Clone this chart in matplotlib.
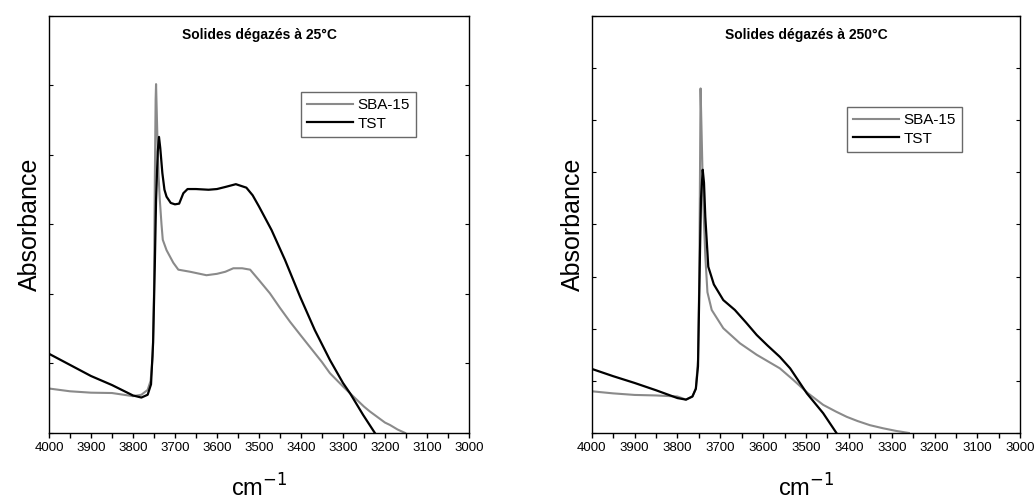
import matplotlib
matplotlib.use('Agg')
import matplotlib.pyplot as plt
from matplotlib.ticker import MultipleLocator

plt.rcParams['font.family'] = ['Liberation Sans', 'DejaVu Sans']

# spectrum degassed at 25 C (wavenumber, absorbance a.u.)
wn_25_sba = [4000, 3950, 3900, 3850, 3800, 3780, 3765, 3758, 3753, 3750, 3748, 3746, 3745, 3742, 3739,
             3736, 3732, 3729, 3720, 3704, 3692, 3664, 3625, 3600, 3580, 3561, 3540, 3521, 3500,
             3474, 3450, 3426, 3400, 3379, 3350, 3331, 3300, 3283, 3250, 3236, 3200, 3188, 3170, 3152]
ab_25_sba = [0.64, 0.60, 0.58, 0.575, 0.53, 0.55, 0.62, 0.75, 1.10, 2.00, 3.60, 4.80, 5.02, 4.30, 3.70,
             3.35, 3.00, 2.78, 2.63, 2.45, 2.35, 2.32, 2.27, 2.29, 2.32, 2.37, 2.37, 2.35, 2.20,
             2.01, 1.80, 1.60, 1.40, 1.24, 1.02, 0.86, 0.67, 0.57, 0.38, 0.31, 0.15, 0.115, 0.05, 0.0]
wn_25_tst = [4000, 3950, 3900, 3850, 3800, 3780, 3765, 3757, 3752, 3748, 3745, 3741, 3738, 3735, 3730,
             3725, 3720, 3710, 3700, 3690, 3680, 3670, 3650, 3620, 3600, 3580, 3555, 3530, 3515, 3500,
             3470, 3438, 3402, 3367, 3331, 3300, 3283, 3252, 3224]
ab_25_tst = [1.14, 0.98, 0.82, 0.69, 0.54, 0.51, 0.55, 0.70, 1.30, 2.40, 3.35, 4.05, 4.26, 4.10, 3.74,
             3.50, 3.40, 3.31, 3.29, 3.30, 3.45, 3.51, 3.51, 3.50, 3.51, 3.54, 3.58, 3.53, 3.42, 3.26,
             2.92, 2.49, 1.96, 1.48, 1.05, 0.72, 0.57, 0.26, 0.0]

# spectrum degassed at 250 C
wn_250_sba = [4000, 3950, 3900, 3850, 3800, 3780, 3765, 3757, 3752, 3749, 3747, 3746, 3744, 3740,
              3735, 3730, 3720, 3693, 3654, 3615, 3561, 3530, 3495, 3460, 3430, 3405, 3380, 3351,
              3320, 3290, 3260]
ab_250_sba = [0.80, 0.76, 0.73, 0.72, 0.70, 0.64, 0.70, 0.85, 1.40, 3.00, 5.40, 6.61, 5.90, 4.47,
              3.40, 2.70, 2.36, 2.01, 1.72, 1.50, 1.24, 1.02, 0.76, 0.54, 0.41, 0.31, 0.23, 0.15,
              0.09, 0.04, 0.0]
wn_250_tst = [4000, 3950, 3900, 3850, 3800, 3780, 3765, 3757, 3752, 3748, 3745, 3741, 3738, 3735,
              3728, 3715, 3693, 3666, 3640, 3615, 3590, 3561, 3537, 3498, 3460, 3429]
ab_250_tst = [1.23, 1.09, 0.96, 0.82, 0.67, 0.64, 0.70, 0.85, 1.28, 3.19, 4.50, 5.05, 4.80, 4.15,
              3.19, 2.85, 2.55, 2.36, 2.12, 1.88, 1.68, 1.46, 1.24, 0.76, 0.38, 0.0]

GREY = '#8a8a8a'

fig = plt.figure(figsize=(10.35, 5.03), dpi=100)

panels = [
    ([0.0473, 0.1392, 0.4058, 0.829], 'Solides dégazés à 25°C', 6,
     wn_25_sba, ab_25_sba, wn_25_tst, ab_25_tst, (0.60, 0.818)),
    ([0.5717, 0.1392, 0.4141, 0.829], 'Solides dégazés à 250°C', 8,
     wn_250_sba, ab_250_sba, wn_250_tst, ab_250_tst, (0.595, 0.782)),
]

for pos, title, ymax, x1, y1, x2, y2, leg_pos in panels:
    ax = fig.add_axes(pos)
    ax.plot(x1, y1, color=GREY, lw=1.5, label='SBA-15')
    ax.plot(x2, y2, color='black', lw=1.6, label='TST')
    ax.set_xlim(4000, 3000)
    ax.set_ylim(0, ymax)
    ax.xaxis.set_major_locator(MultipleLocator(100))
    ax.xaxis.set_minor_locator(MultipleLocator(50))
    ax.yaxis.set_major_locator(MultipleLocator(1))
    ax.tick_params(axis='x', which='both', direction='out', length=3.5, width=1,
                   labelsize=9.5, pad=3, top=False)
    ax.tick_params(axis='y', direction='in', length=3, width=0.8,
                   left=True, right=True, labelleft=False)
    for sp in ax.spines.values():
        sp.set_linewidth(1.0)
    ax.text(0.5, 0.955, title, transform=ax.transAxes, ha='center', va='center',
            fontsize=10, fontweight='bold')
    ax.set_ylabel('Absorbance', fontsize=18, labelpad=5)
    ax.set_xlabel('cm$^{-1}$', fontsize=17, labelpad=15)
    leg = ax.legend(loc='upper left', bbox_to_anchor=leg_pos, borderaxespad=0,
                    fontsize=11, frameon=True, fancybox=False, handlelength=3.0,
                    handletextpad=0.3, borderpad=0.4, labelspacing=0.3)
    leg.get_frame().set_edgecolor('#444444')
    leg.get_frame().set_linewidth(1.0)

fig.savefig('out.png', dpi=100)
